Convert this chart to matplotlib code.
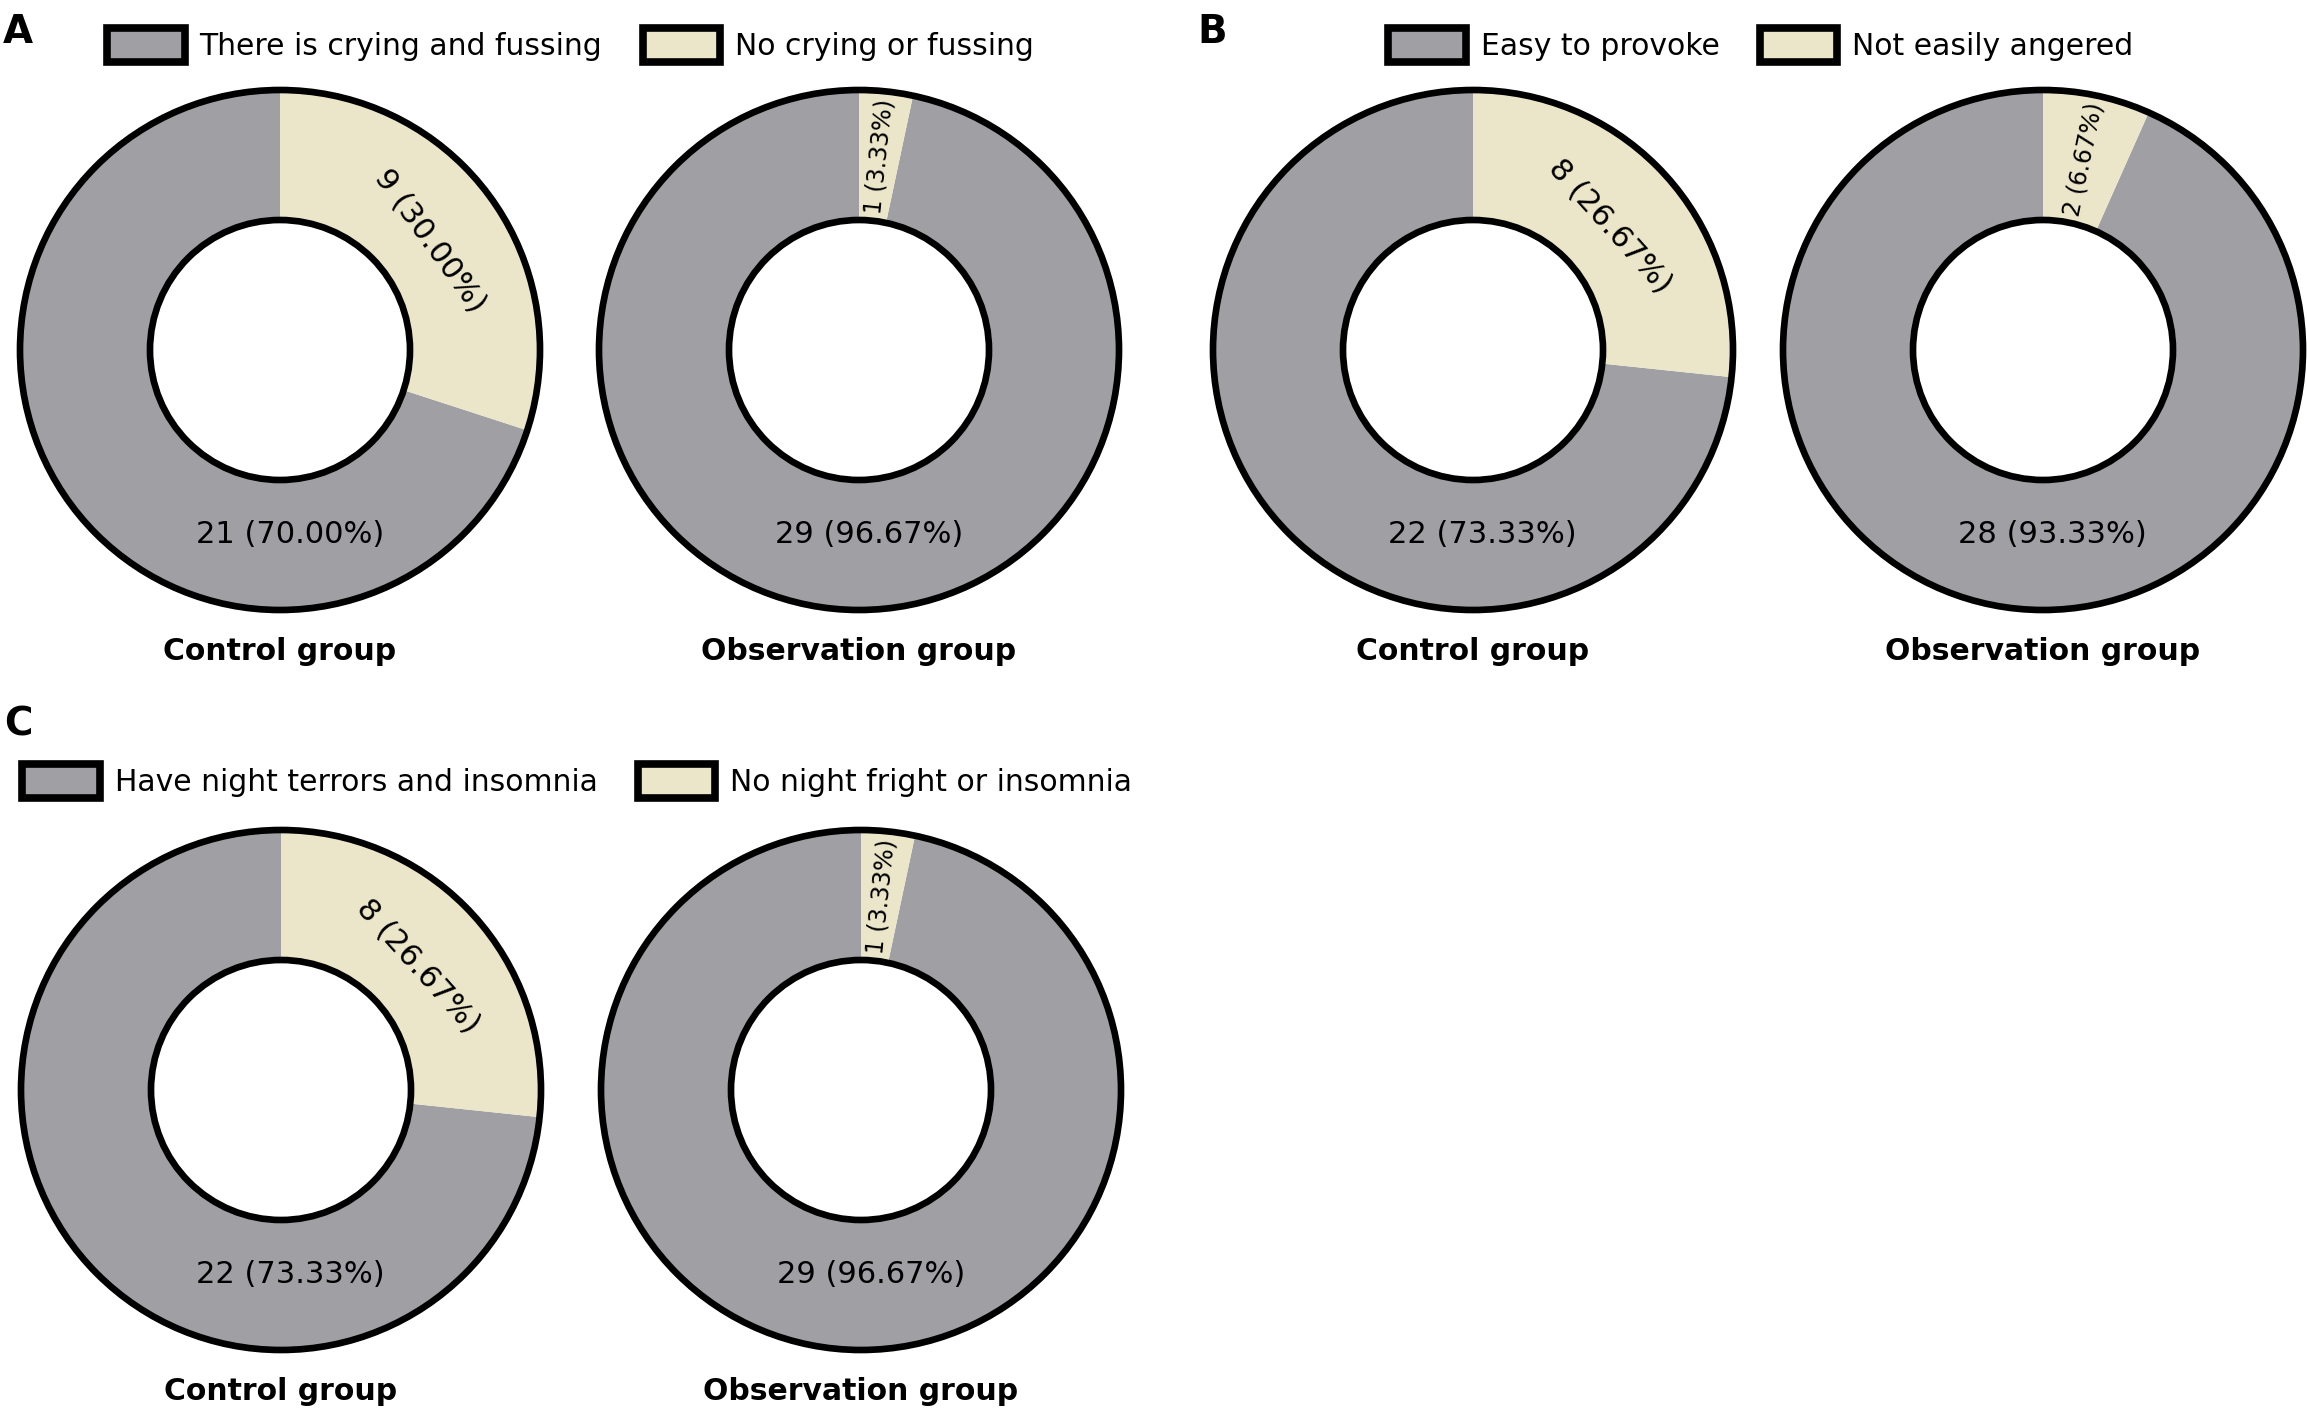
"""
Donut charts: emotional behaviour outcomes, control vs observation group.
"""

import numpy as np
import matplotlib
matplotlib.use("Agg")
import matplotlib.pyplot as plt
from matplotlib.patches import Circle, Patch

# ---- data (counts out of 30 per group) ----
letters = ["A", "B", "C"]
legend_a = ["There is crying and fussing", "No crying or fussing"]
legend_b = ["Easy to provoke", "Not easily angered"]
legend_c = ["Have night terrors and insomnia", "No night fright or insomnia"]
control_a = [21, 9]
observation_a = [29, 1]
control_b = [22, 8]
observation_b = [28, 2]
control_c = [22, 8]
observation_c = [29, 1]
group_names = ["Control group", "Observation group"]

GRAY = "#a09fa4"
CREAM = "#ebe6ca"
W, H = 2307, 1420
R_PX = 260  # outer radius in pixels

fig = plt.figure(figsize=(W / 100, H / 100), dpi=100)


def donut(cx, cy, counts, group):
    lim = 1.25
    side = 2 * R_PX * lim
    ax = fig.add_axes([(cx - side / 2) / W, 1 - (cy + side / 2) / H, side / W, side / H])
    total = sum(counts)
    ax.pie(counts, colors=[GRAY, CREAM], startangle=90,
           radius=1, wedgeprops=dict(width=0.5, linewidth=0))
    ax.add_patch(Circle((0, 0), 1, fill=False, lw=4.8, ec="black"))
    ax.add_patch(Circle((0, 0), 0.5, fill=False, lw=4.8, ec="black"))
    ax.set_xlim(-lim, lim)
    ax.set_ylim(-lim, lim)
    ax.set_aspect("equal")
    ax.axis("off")

    # gray slice label sits near the bottom, horizontal
    n0 = counts[0]
    a = np.deg2rad(-87)
    ax.text(0.71 * np.cos(a), 0.71 * np.sin(a), f"{n0} ({n0 / total * 100:.2f}%)",
            ha="center", va="center", fontsize=22)

    # cream slice label at its mid angle
    n1 = counts[1]
    small = n1 / total < 0.1
    mid = 90 - 360 * n1 / total / 2
    r = 0.75 if small else 0.71
    rot = mid if small else mid - 90
    m = np.deg2rad(mid)
    ax.text(r * np.cos(m), r * np.sin(m), f"{n1} ({n1 / total * 100:.2f}%)",
            ha="center", va="center", fontsize=17 if small else 22,
            rotation=rot, rotation_mode="anchor")

    ax.text(0, -1.16, group, ha="center", va="center", fontsize=21.5, fontweight="bold")


def legend(x, y, labels):
    handles = [Patch(facecolor=c, edgecolor="black", linewidth=5.5) for c in (GRAY, CREAM)]
    fig.legend(handles, labels, loc="center left", bbox_to_anchor=(x / W, 1 - y / H),
               ncol=2, frameon=False, fontsize=21.5, borderpad=0, borderaxespad=0,
               handlelength=2.6, handleheight=1.4, handletextpad=0.5,
               columnspacing=1.35)


panels = [
    (letters[0], (18, 32), (107, 45), legend_a, [(280, 350), (859, 350)], [control_a, observation_a]),
    (letters[1], (1212, 32), (1388, 45), legend_b, [(1473, 350), (2043, 350)], [control_b, observation_b]),
    (letters[2], (18, 724), (22, 781), legend_c, [(281, 1090), (861, 1090)], [control_c, observation_c]),
]

for letter, (lx, ly), (gx, gy), labels, centers, data in panels:
    fig.text(lx / W, 1 - ly / H, letter, fontsize=28, fontweight="bold",
             ha="center", va="center")
    legend(gx, gy, labels)
    for (cx, cy), counts, group in zip(centers, data, group_names):
        donut(cx, cy, counts, group)

fig.savefig("out.png", dpi=100)
